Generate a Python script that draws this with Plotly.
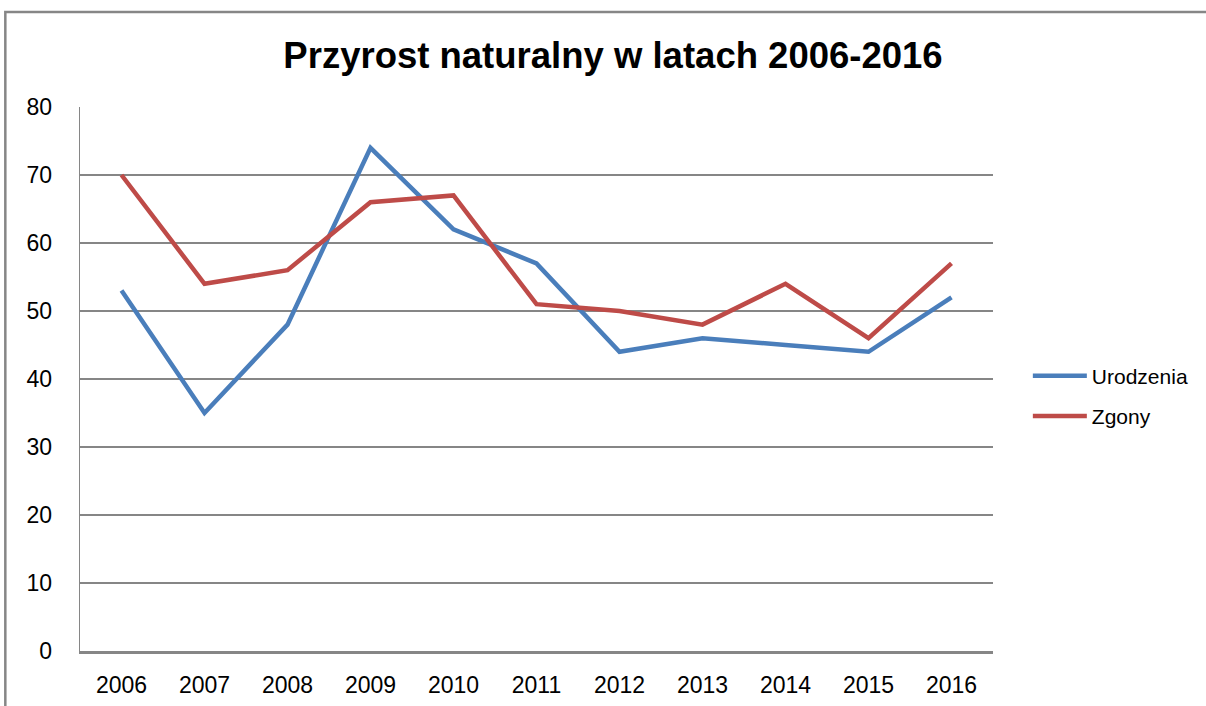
import plotly.graph_objects as go

years = ["2006", "2007", "2008", "2009", "2010", "2011", "2012", "2013", "2014", "2015", "2016"]
urodzenia = [53, 35, 48, 74, 62, 57, 44, 46, 45, 44, 52]
zgony = [70, 54, 56, 66, 67, 51, 50, 48, 54, 46, 57]

W, H = 1206, 706
L, R, T, B = 80, 997, 107, 651
pw, ph = R - L, B - T

def px_x(p):
    return (p - L) / pw

def px_y(p):
    return (B - p) / ph

grid = "#868686"
fnt = "Liberation Sans, Arial, sans-serif"

fig = go.Figure()
fig.add_trace(go.Scatter(x=years, y=urodzenia, name="Urodzenia", mode="lines",
                         line=dict(color="#4A7EBB", width=4.5), legendgroup="a"))
fig.add_trace(go.Scatter(x=years, y=zgony, name="Zgony", mode="lines",
                         line=dict(color="#BE4B48", width=4.5), legendgroup="b"))

fig.update_layout(
    width=W, height=H,
    margin=dict(l=L, r=W - R, t=T, b=H - B, pad=0),
    paper_bgcolor="white", plot_bgcolor="white",
    font=dict(family=fnt, color="black", size=22),
    title=dict(text="<b>Przyrost naturalny w latach 2006-2016</b>",
               x=613 / W, xanchor="center", y=1 - 55 / H, yanchor="middle",
               font=dict(family=fnt, size=36.5, color="black")),
    showlegend=True,
    legend=dict(x=px_x(1032), xanchor="left", y=px_y(396), yanchor="middle",
                font=dict(family=fnt, size=21), traceorder="grouped",
                tracegroupgap=10, bgcolor="rgba(0,0,0,0)", itemwidth=54),
    xaxis=dict(type="category", range=[-0.5, 10.5], showgrid=False,
               showline=True, linecolor=grid, linewidth=2.5,
               ticks="", ticklabelstandoff=12, tickfont=dict(size=23),
               automargin=False, fixedrange=True),
    yaxis=dict(range=[0, 80], dtick=10, showgrid=True, gridcolor=grid, gridwidth=1.3,
               zeroline=False, showline=True, linecolor=grid, linewidth=1.3,
               ticks="", ticklabelstandoff=22, tickfont=dict(size=23),
               automargin=False, fixedrange=True),
    shapes=[dict(type="rect", xref="paper", yref="paper",
                 x0=px_x(5), x1=px_x(1230), y0=px_y(730), y1=px_y(12),
                 line=dict(color="#868686", width=2.5), fillcolor="rgba(0,0,0,0)",
                 layer="below")],
)

fig.write_html("out.html", config={"displayModeBar": False, "staticPlot": True},
               post_script="document.body.style.margin='0';document.body.style.overflow='hidden';")
